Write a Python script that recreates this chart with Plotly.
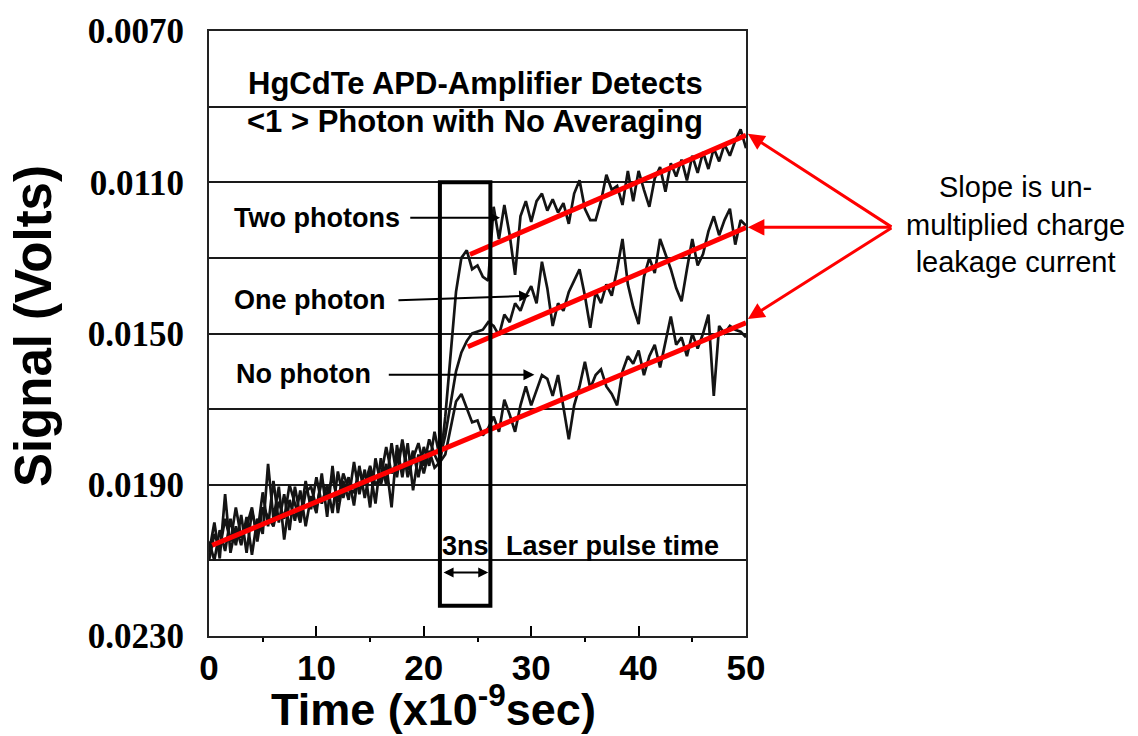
import numpy as np
import plotly.graph_objects as go

# ---------------- data ----------------
time_ns = np.round(np.arange(0, 50.01, 0.5), 1)  # 0 .. 50 ns, 0.5 ns sampling

no_photon = [
    0.02080, 0.02000, 0.02095, 0.01925, 0.02080, 0.02010, 0.02060, 0.01985, 0.02085, 0.01990,
    0.02030, 0.01845, 0.01990, 0.01905, 0.02045, 0.01940, 0.01995, 0.01915, 0.02010, 0.01930,
    0.01975, 0.01870, 0.01985, 0.01850, 0.01975, 0.01890, 0.01940, 0.01840, 0.01925, 0.01860,
    0.01960, 0.01830, 0.01900, 0.01845, 0.01960, 0.01795, 0.01880, 0.01790, 0.01915, 0.01820,
    0.01870, 0.01810, 0.01855, 0.01840, 0.01820, 0.01750, 0.01680, 0.01660, 0.01700, 0.01735,
    0.01730, 0.01770, 0.01750, 0.01720, 0.01760, 0.01675, 0.01715, 0.01760, 0.01690, 0.01640,
    0.01690, 0.01650, 0.01610, 0.01620, 0.01665, 0.01610, 0.01700, 0.01780, 0.01690, 0.01640,
    0.01575, 0.01645, 0.01610, 0.01595, 0.01640, 0.01660, 0.01690, 0.01600, 0.01560, 0.01580,
    0.01545, 0.01610, 0.01560, 0.01530, 0.01590, 0.01520, 0.01455, 0.01530, 0.01510, 0.01560,
    0.01500, 0.01540, 0.01500, 0.01450, 0.01665, 0.01480, 0.01500, 0.01480, 0.01490, 0.01495,
    0.01510,
]

one_photon = [
    0.02050, 0.02100, 0.02020, 0.02075, 0.01990, 0.02060, 0.01980, 0.02080, 0.01970, 0.02030,
    0.01920, 0.02010, 0.01890, 0.02000, 0.01925, 0.02020, 0.01905, 0.01985, 0.01890, 0.01965,
    0.01880, 0.01950, 0.01900, 0.01975, 0.01865, 0.01935, 0.01880, 0.01955, 0.01850, 0.01935,
    0.01860, 0.01950, 0.01830, 0.01900, 0.01790, 0.01880, 0.01780, 0.01860, 0.01810, 0.01880,
    0.01800, 0.01850, 0.01760, 0.01830, 0.01770, 0.01680, 0.01600, 0.01550, 0.01520, 0.01500,
    0.01495, 0.01490, 0.01470, 0.01480, 0.01505, 0.01450, 0.01470, 0.01420, 0.01440, 0.01400,
    0.01375, 0.01420, 0.01310, 0.01380, 0.01480, 0.01420, 0.01440, 0.01390, 0.01360, 0.01330,
    0.01400, 0.01485, 0.01390, 0.01420, 0.01370, 0.01400, 0.01330, 0.01250, 0.01370, 0.01430,
    0.01475, 0.01350, 0.01300, 0.01340, 0.01250, 0.01290, 0.01330, 0.01380, 0.01415, 0.01330,
    0.01250, 0.01320, 0.01290, 0.01230, 0.01190, 0.01240, 0.01200, 0.01170, 0.01265, 0.01200,
    0.01215,
]

two_photons = [
    0.02100, 0.02030, 0.02070, 0.01990, 0.02050, 0.01960, 0.02040, 0.02010, 0.01960, 0.02050,
    0.01960, 0.01985, 0.02010, 0.01945, 0.01990, 0.01900, 0.01950, 0.02000, 0.01920, 0.01905,
    0.01960, 0.01890, 0.01930, 0.01880, 0.01945, 0.01870, 0.01910, 0.01920, 0.01860, 0.01900,
    0.01850, 0.01900, 0.01880, 0.01800, 0.01870, 0.01840, 0.01790, 0.01880, 0.01830, 0.01790,
    0.01850, 0.01780, 0.01820, 0.01850, 0.01720, 0.01550, 0.01390, 0.01300, 0.01280, 0.01330,
    0.01320, 0.01350, 0.01360, 0.01165, 0.01250, 0.01160, 0.01240, 0.01345, 0.01190, 0.01150,
    0.01205, 0.01150, 0.01130, 0.01175, 0.01145, 0.01180, 0.01155, 0.01210, 0.01130, 0.01095,
    0.01170, 0.01200, 0.01200, 0.01150, 0.01080, 0.01120, 0.01110, 0.01160, 0.01070, 0.01150,
    0.01070, 0.01120, 0.01165, 0.01090, 0.01060, 0.01125, 0.01050, 0.01085, 0.01040, 0.01095,
    0.01030, 0.01075, 0.01020, 0.01065, 0.01010, 0.01045, 0.01000, 0.01030, 0.00990, 0.00960,
    0.01010,
]

# red "slope" fit lines: start/end (time, volts)
slope_t0 = [0.3, 24.1, 24.3]
slope_v0 = [0.02060, 0.01535, 0.01291]
slope_t1 = [50.0, 50.0, 50.0]
slope_v1 = [0.01472, 0.01220, 0.00976]

x_tickvals = [0, 10, 20, 30, 40, 50]
y_tickvals = [0.0070, 0.0110, 0.0150, 0.0190, 0.0230]
y_ticktext = ["0.0070", "0.0110", "0.0150", "0.0190", "0.0230"]
y_minor_grid = [0.0090, 0.0130, 0.0170, 0.0210]

# laser pulse window (time range and signal range of the box)
pulse_t = [21.5, 26.2]
pulse_v = [0.0110, 0.0222]

SANS = "Liberation Sans, Arial, Helvetica, sans-serif"
SERIF = "Liberation Serif, Times New Roman, serif"

# ---------------- figure ----------------
fig = go.Figure()

for series in (no_photon, one_photon, two_photons):
    fig.add_trace(go.Scatter(
        x=time_ns, y=series, mode="lines",
        line=dict(color="#141414", width=2.7),
        hoverinfo="skip",
    ))

for t0, v0, t1, v1 in zip(slope_t0, slope_v0, slope_t1, slope_v1):
    fig.add_trace(go.Scatter(
        x=[t0, t1], y=[v0, v1], mode="lines",
        line=dict(color="#ff0000", width=5),
        hoverinfo="skip",
    ))

# laser pulse box
fig.add_shape(type="rect", xref="x", yref="y",
              x0=pulse_t[0], x1=pulse_t[1], y0=pulse_v[0], y1=pulse_v[1],
              line=dict(color="black", width=4), layer="above")

annotations = []

def label(text, x, y, size, xanchor="left", xref="x", yref="y", bold=True, color="black"):
    annotations.append(dict(
        text=f"<b>{text}</b>" if bold else text, x=x, y=y, xref=xref, yref=yref,
        showarrow=False, xanchor=xanchor, yanchor="middle",
        font=dict(family=SANS, size=size, color=color),
    ))

# title inside plot
label("HgCdTe APD-Amplifier Detects", 0.497, 0.00840, 31, xanchor="center", xref="paper")
label("&lt;1 &gt; Photon with No Averaging", 0.496, 0.00940, 31, xanchor="center", xref="paper")

# trace labels
label("Two photons", 2.1, 0.01195, 27)
label("One photon", 2.1, 0.01412, 27)
label("No photon", 2.3, 0.01607, 27)

# black arrows from labels
for (xs, ys, xe, ye) in [(18.6, 0.01194, 27.1, 0.01194),
                         (17.5, 0.01412, 29.9, 0.01400),
                         (16.6, 0.01609, 30.3, 0.01609)]:
    annotations.append(dict(
        x=xe, y=ye, ax=xs, ay=ys, xref="x", yref="y", axref="x", ayref="y",
        text="", showarrow=True, arrowhead=2, arrowsize=1.1, arrowwidth=2,
        arrowcolor="black",
    ))

# 3 ns double arrow
annotations.append(dict(
    x=26.0, y=0.02132, ax=21.7, ay=0.02132, xref="x", yref="y", axref="x", ayref="y",
    text="", showarrow=True, arrowhead=2, startarrowhead=2, arrowside="end+start",
    arrowsize=1, arrowwidth=2, arrowcolor="black",
))
label("3ns", 23.85, 0.02062, 27, xanchor="center")
label("Laser pulse time", 27.5, 0.02062, 27)

# red arrows to slope lines from the side note
for y_head, ay in [(0.830, 94), (0.6755, 0), (0.524, -92)]:
    annotations.append(dict(
        x=1.0035, y=y_head, xref="paper", yref="paper",
        ax=145, ay=ay, text="", showarrow=True, arrowhead=2,
        arrowsize=1.1, arrowwidth=3, arrowcolor="#ff0000",
    ))

annotations.append(dict(
    text="Slope is un-<br>multiplied charge<br>leakage current",
    x=1.501, y=0.680, xref="paper", yref="paper", showarrow=False,
    xanchor="center", yanchor="middle", align="center",
    font=dict(family=SANS, size=29, color="black"),
))

# axis titles as annotations
annotations.append(dict(
    text="<b>Time (x10<sup>-9</sup>sec)</b>", x=0.418, y=(636 - 706) / 607,
    xref="paper", yref="paper",
    showarrow=False, xanchor="center", yanchor="middle",
    font=dict(family=SANS, size=45, color="black"),
))
annotations.append(dict(
    text="<b>Signal (Volts)</b>", x=-0.328, y=0.512, xref="paper", yref="paper",
    showarrow=False, xanchor="center", yanchor="middle", textangle=-90,
    font=dict(family=SANS, size=51, color="black"),
))

fig.update_layout(
    width=1138, height=736,
    margin=dict(l=209, r=392, t=29, b=100),
    plot_bgcolor="white", paper_bgcolor="white",
    showlegend=False,
    annotations=annotations,
    xaxis=dict(
        range=[0, 50], tickvals=x_tickvals, ticks="inside", ticklen=10,
        tickwidth=2, tickcolor="black",
        minor=dict(tickvals=[5, 15, 25, 35, 45], ticks="outside", ticklen=4,
                   tickwidth=2, tickcolor="black"),
        showline=True, mirror=True, linewidth=2, linecolor="#222",
        showgrid=False, zeroline=False,
        tickfont=dict(family=SANS, size=35, color="black", weight="bold"),
    ),
    yaxis=dict(
        range=[0.0230, 0.0070], tickvals=y_tickvals, ticktext=y_ticktext,
        ticks="", showgrid=True, gridcolor="#1a1a1a", gridwidth=1.6,
        minor=dict(tickvals=y_minor_grid, showgrid=True, gridcolor="#1a1a1a",
                   gridwidth=1.6, ticks=""),
        showline=True, mirror=True, linewidth=2, linecolor="#222",
        zeroline=False, ticklabelstandoff=16,
        tickfont=dict(family=SERIF, size=35, color="black", weight="bold"),
    ),
)

fig.write_html("out.html")
